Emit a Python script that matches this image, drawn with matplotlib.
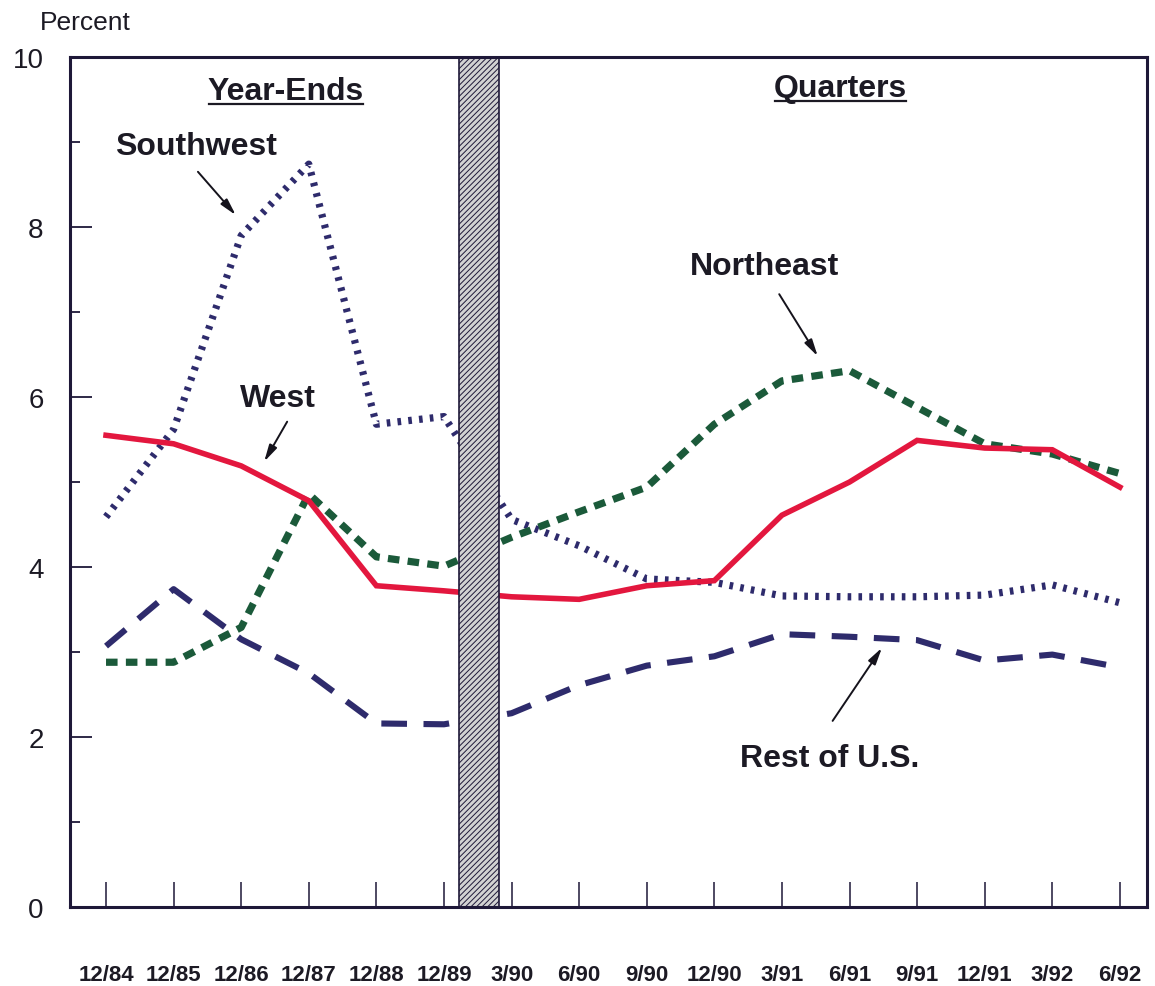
import numpy as np
import matplotlib
matplotlib.use("Agg")
import matplotlib.pyplot as plt
from matplotlib.lines import Line2D

# ---------------- data ----------------
periods = ["12/84", "12/85", "12/86", "12/87", "12/88", "12/89",
           "3/90", "6/90", "9/90", "12/90", "3/91", "6/91",
           "9/91", "12/91", "3/92", "6/92"]

west = [5.55, 5.45, 5.19, 4.78, 3.78, 3.72,
        3.65, 3.62, 3.78, 3.84, 4.61, 5.00,
        5.49, 5.40, 5.38, 4.94]

southwest = [4.59, 5.62, 7.90, 8.74, 5.68, 5.77,
             4.56, 4.25, 3.86, 3.82, 3.66, 3.65,
             3.65, 3.67, 3.79, 3.58]

northeast = [2.88, 2.88, 3.29, 4.86, 4.12, 4.01,
             4.35, 4.65, 4.94, 5.68, 6.19, 6.31,
             5.88, 5.45, 5.33, 5.10]

rest_us = [3.07, 3.74, 3.15, 2.75, 2.16, 2.15,
           2.28, 2.61, 2.84, 2.95, 3.21, 3.18,
           3.14, 2.90, 2.97, 2.82]

yticks_major = [0, 2, 4, 6, 8, 10]
yticks_minor = [1, 3, 5, 7, 9]

# ---------------- style ----------------
plt.rcParams['font.family'] = ['Liberation Sans', 'DejaVu Sans']

RED = '#e3173e'
GREEN = '#1b5a3a'
NAVY = '#2e2b6c'
TXT = '#1c1a24'
AXC = '#1e1838'

fig = plt.figure(figsize=(11.55, 9.87), dpi=100)
ax = fig.add_axes([0.0606, 0.0800, 0.9324, 0.8612])

x = np.arange(len(periods))

ax.plot(x, southwest, color=NAVY, lw=5.2, linestyle=(0, (0.5, 1.0)),
        dash_capstyle='butt', zorder=3)
ax.plot(x, rest_us, color=NAVY, lw=4.4, linestyle=(0, (4.2, 2.7)),
        dash_capstyle='butt', zorder=3)
ax.plot(x, northeast, color=GREEN, lw=5.2, linestyle=(0, (1.6, 1.15)),
        dash_capstyle='butt', zorder=4)
ax.plot(x, west, color=RED, lw=4.0, solid_joinstyle='miter', zorder=5)

# separator band between the year-end and quarterly sections
sep_center = 5.515
sep_width = 0.59
plt.rcParams['hatch.color'] = '#8c8c8c'
plt.rcParams['hatch.linewidth'] = 0.7
ax.bar([sep_center], [10], width=sep_width, bottom=0, color='#d2d2d2',
       hatch='//////', edgecolor=AXC, linewidth=1.2, zorder=6)

ax.set_xlim(-0.533, 15.40)
ax.set_ylim(0, 10)

for s in ax.spines.values():
    s.set_linewidth(2.2)
    s.set_color(AXC)
    s.set_zorder(10)

ax.set_xticks(x)
ax.set_xticklabels(periods, fontsize=16, fontweight='bold', color=TXT)
ax.tick_params(axis='x', direction='in', length=18, width=1.1, color=AXC,
               pad=41)
ax.set_yticks(yticks_major)
ax.set_yticklabels([str(v) for v in yticks_major], fontsize=20, color=TXT)
ax.set_yticks(yticks_minor, minor=True)
ax.tick_params(axis='y', which='major', direction='in', length=16,
               width=1.3, color=AXC, pad=19)
ax.tick_params(axis='y', which='minor', direction='in', length=7.5,
               width=1.3, color=AXC)

fig.text(40 / 1155, 1 - 30 / 987, "Percent", fontsize=19, color=TXT,
         ha='left', va='baseline')

# section headers
hdr_kw = dict(fontsize=23, fontweight='bold', color=TXT, ha='center',
              va='baseline', zorder=8)
t1 = ax.text(2.66, 9.51, "Year-Ends", **hdr_kw)
t2 = ax.text(10.87, 9.54, "Quarters", **hdr_kw)

# series labels with arrows
lab_kw = dict(fontsize=23, fontweight='bold', color=TXT, ha='left',
              va='baseline', zorder=8)
ax.text(0.13, 8.86, "Southwest", **lab_kw)
ax.text(1.98, 5.89, "West", **lab_kw)
ax.text(8.64, 7.45, "Northeast", **lab_kw)
ax.text(9.38, 1.66, "Rest of U.S.", **lab_kw)

arrow_kw = dict(arrowstyle='-|>,head_length=1.0,head_width=0.25',
                color='#15131c', lw=1.4, shrinkA=0, shrinkB=0)
ax.annotate("", xy=(1.92, 8.14), xytext=(1.36, 8.65), arrowprops=arrow_kw, zorder=8)
ax.annotate("", xy=(2.34, 5.24), xytext=(2.68, 5.71), arrowprops=arrow_kw, zorder=8)
ax.annotate("", xy=(10.53, 6.48), xytext=(9.96, 7.21), arrowprops=arrow_kw, zorder=8)
ax.annotate("", xy=(11.48, 3.05), xytext=(10.75, 2.19), arrowprops=arrow_kw, zorder=8)

# underline the section headers
fig.canvas.draw()
r = fig.canvas.get_renderer()
for t in (t1, t2):
    bb = t.get_window_extent(renderer=r)
    inv = fig.transFigure.inverted()
    (x0, y0), (x1, _) = inv.transform([(bb.x0 + 1, bb.y0 + 2), (bb.x1 - 1, bb.y0)])
    fig.add_artist(Line2D([x0, x1], [y0, y0], transform=fig.transFigure,
                          color=TXT, lw=1.6))

fig.savefig("out.png", dpi=100)
